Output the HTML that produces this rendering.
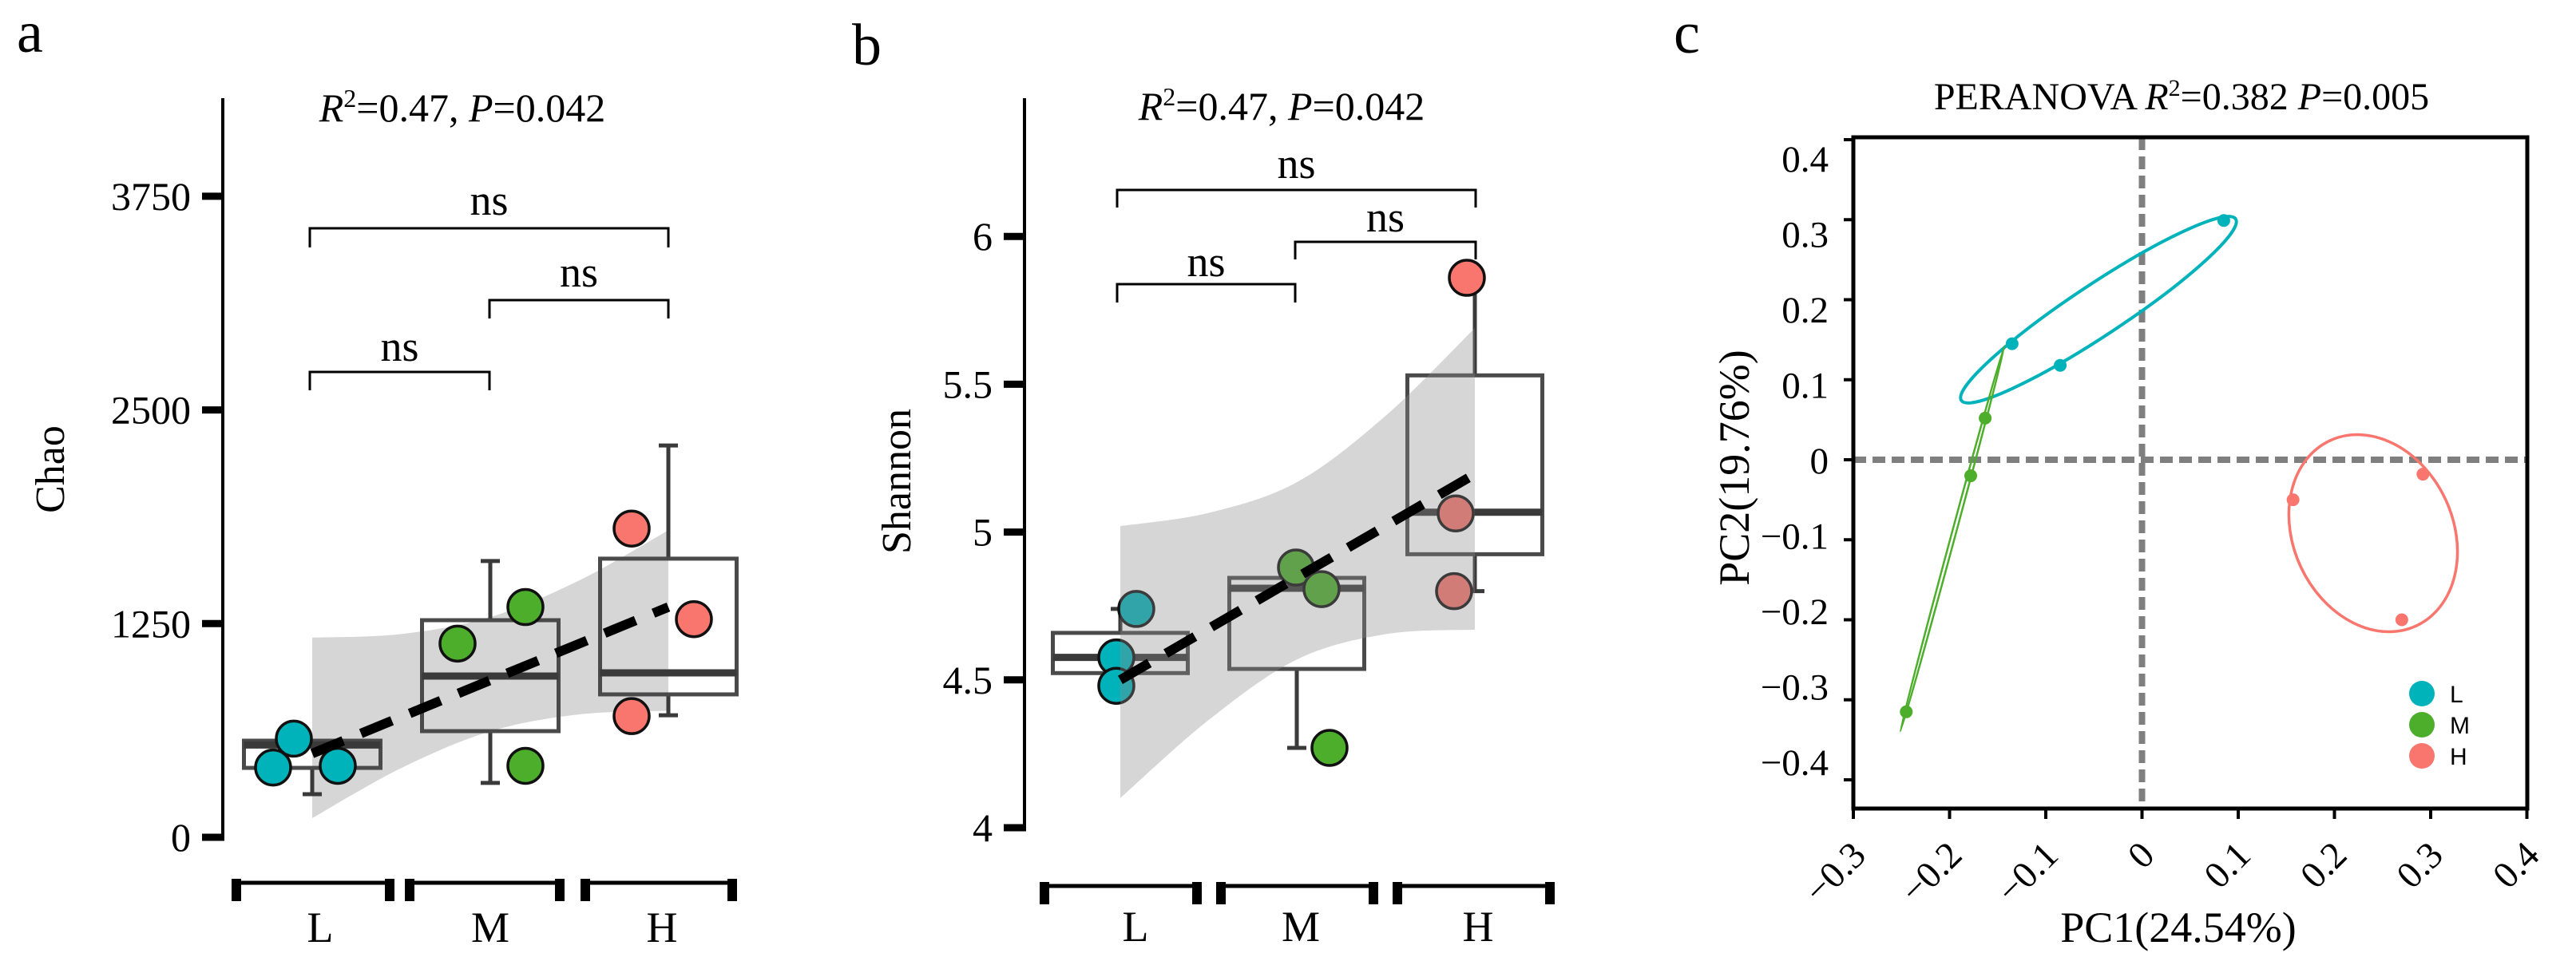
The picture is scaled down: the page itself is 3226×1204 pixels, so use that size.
<!DOCTYPE html>
<html><head><meta charset="utf-8"><style>
html,body{margin:0;padding:0;background:#fff}
svg{display:block}
text{font-family:"Liberation Serif",serif;fill:#000}
</style></head><body>
<svg id="fig" width="3226" height="1204" viewBox="0 0 3226 1204" xmlns="http://www.w3.org/2000/svg">
<g id="pa"></g>
<g id="pb"></g>
<g id="pc"></g>
</svg>
<script>
// ---------- data ----------
const groups = ['L','M','H'];
const colors = ['#00B2BA','#4DAE2C','#F8766D'];
// panel a (Chao)
const aTicks = [0,1250,2500,3750];
const aBoxLow = [252,318,714], aQ1 = [406,621,836], aMed = [540,943,962], aQ3 = [565,1270,1630], aHigh = [565,1616,2292];
const aPtsL = [408,577,418], aPtsM = [1133,1347,418], aPtsH = [1806,1276,709];
const aPtsOffset = [[-49,-23,32],[-41,44,44],[-46,32,-46]];
const aFit = [490,1347];
const aBandUp = [1168,1189,1288,1503,1796], aBandLo = [112,405,620,719,740];
// panel b (Shannon)
const bTicks = [4,4.5,5,5.5,6];
const bBoxLow = [4.52,4.27,4.80], bQ1 = [4.523,4.537,4.925], bMed = [4.576,4.81,5.067], bQ3 = [4.659,4.845,5.53], bHigh = [4.74,4.845,5.855];
const bPtsL = [4.74,4.576,4.48], bPtsM = [4.88,4.807,4.27], bPtsH = [5.86,5.063,4.80];
const bPtsOffset = [[20,-5,-5],[-1,31,41],[-10,-24,-26]];
const bFit = [4.50,5.196];
const bBandUp = [5.02,5.065,5.17,5.395,5.69], bBandLo = [4.10,4.365,4.57,4.655,4.67];
// panel c (PCoA)
const cXTicks = [-0.3,-0.2,-0.1,0,0.1,0.2,0.3,0.4];
const cYTicks = [0.4,0.3,0.2,0.1,0,-0.1,-0.2,-0.3,-0.4];
const cLx = [0.085,-0.135,-0.085], cLy = [0.299,0.145,0.118];
const cMx = [-0.163,-0.178,-0.245], cMy = [0.052,-0.02,-0.315];
const cHx = [0.157,0.292,0.27], cHy = [-0.05,-0.018,-0.2];

const NS='http://www.w3.org/2000/svg';
function mk(parent, tag, attrs, txt){
  const e=document.createElementNS(NS,tag);
  for(const k in attrs) e.setAttribute(k,attrs[k]);
  if(txt!==undefined) e.textContent=txt;
  parent.appendChild(e); return e;
}
function smooth(pts){
  let d='M'+pts[0][0]+','+pts[0][1];
  for(let i=0;i<pts.length-1;i++){
    const p0=pts[Math.max(0,i-1)],p1=pts[i],p2=pts[i+1],p3=pts[Math.min(pts.length-1,i+2)];
    const c1=[p1[0]+(p2[0]-p0[0])/6,p1[1]+(p2[1]-p0[1])/6];
    const c2=[p2[0]-(p3[0]-p1[0])/6,p2[1]-(p3[1]-p1[1])/6];
    d+=' C'+c1+' '+c2+' '+p2;
  }
  return d;
}

function boxPanel(g, cfg){
  const y=cfg.y;
  const L=mk(g,'text',{x:cfg.letterX,y:cfg.letterY,'font-size':74});
  L.textContent=cfg.letter;
  
  
  const t=mk(g,'text',{x:cfg.titleX,y:cfg.titleY,'font-size':50,'text-anchor':'middle'});
  t.innerHTML='<tspan font-style="italic">R</tspan><tspan font-size="32" dy="-18">2</tspan><tspan dy="18">=0.47, </tspan><tspan font-style="italic">P</tspan><tspan>=0.042</tspan>';
  
  
  const ax=mk(g,'line',{x1:cfg.axisX,x2:cfg.axisX,y1:cfg.axisTop,y2:cfg.axisBot,stroke:'#000','stroke-width':4});
  
  
  cfg.ticks.forEach(v=>{
    const tk=mk(g,'line',{x1:cfg.axisX-26,x2:cfg.axisX+2,y1:y(v),y2:y(v),stroke:'#000','stroke-width':9});
    
    
    const tl=mk(g,'text',{x:cfg.axisX-40,y:y(v)+17,'font-size':50,'text-anchor':'end'},String(v));
    
    
  });
  const yt=mk(g,'text',{x:0,y:0,'font-size':52,'text-anchor':'middle',transform:`translate(${cfg.ylabX},${cfg.ylabY}) rotate(-90)`},cfg.ylab);
  
  
  groups.forEach((gname,i)=>{
    const [x1,x2]=cfg.bars[i];
    const bl=mk(g,'line',{x1:x1,x2:x2,y1:cfg.barY,y2:cfg.barY,stroke:'#000','stroke-width':5});
    
    
    [x1,x2-12].forEach(xx=>{
      const c=mk(g,'rect',{x:xx,y:cfg.barY-5,width:12,height:28,fill:'#000'});
      
      
    });
    const lb=mk(g,'text',{x:cfg.labX[i],y:cfg.labY,'font-size':54,'text-anchor':'middle'},gname);
    
    
  });
  const cx=cfg.cx;
  const band=()=>{
    const xs=[0,0.5,1,1.5,2].map(k=>cx[0]+(cx[2]-cx[0])*k/2);
    const up=xs.map((x,i)=>[x,y(cfg.bandUp[i])]);
    const lo=xs.map((x,i)=>[x,y(cfg.bandLo[i])]).reverse();
    const d=smooth(up)+' L'+lo[0]+' '+smooth(lo).slice(1)+' Z';
    const b=mk(g,'path',{d:d,fill:cfg.bandFill,'fill-opacity':cfg.bandOp});
    
    
  };
  const boxes=()=>{
    groups.forEach((gname,i)=>{
      const bx=mk(g,'g',{});
      
      
      mk(bx,'line',{x1:cx[i],x2:cx[i],y1:y(cfg.high[i]),y2:y(cfg.q3[i]),stroke:'#3a3a3a','stroke-width':5});
      mk(bx,'line',{x1:cx[i],x2:cx[i],y1:y(cfg.low[i]),y2:y(cfg.q1[i]),stroke:'#3a3a3a','stroke-width':5});
      mk(bx,'line',{x1:cx[i]-12,x2:cx[i]+12,y1:y(cfg.high[i]),y2:y(cfg.high[i]),stroke:'#3a3a3a','stroke-width':5});
      mk(bx,'line',{x1:cx[i]-12,x2:cx[i]+12,y1:y(cfg.low[i]),y2:y(cfg.low[i]),stroke:'#3a3a3a','stroke-width':5});
      mk(bx,'rect',{x:cx[i]-cfg.bw/2,y:y(cfg.q3[i]),width:cfg.bw,height:y(cfg.q1[i])-y(cfg.q3[i]),fill:'none',stroke:'#4a4a4a','stroke-width':5});
      mk(bx,'line',{x1:cx[i]-cfg.bw/2,x2:cx[i]+cfg.bw/2,y1:y(cfg.med[i]),y2:y(cfg.med[i]),stroke:'#3a3a3a','stroke-width':9});
    });
  };
  const points=()=>{
    cfg.pts.forEach((arr,i)=>{
      arr.forEach((v,j)=>{
        const c=mk(g,'circle',{cx:cx[i]+cfg.off[i][j],cy:y(v),r:22,fill:colors[i],stroke:'#111','stroke-width':3.5});
        
        
      });
    });
  };
  const fit=()=>{
    const f=mk(g,'line',{x1:cx[0],y1:y(cfg.fit[0]),x2:cx[2],y2:y(cfg.fit[1]),stroke:'#000','stroke-width':12,'stroke-dasharray':'42 24'});
    
    
  };
  if(cfg.order==='a'){band();boxes();points();fit();}
  else{boxes();points();band();fit();}
  cfg.brackets.forEach(br=>{
    const bg=mk(g,'g',{});
    
    
    mk(bg,'path',{d:`M${br[0]},${br[3]} V${br[2]} H${br[1]} V${br[3]}`,fill:'none',stroke:'#000','stroke-width':3});
    mk(bg,'text',{x:(br[0]+br[1])/2,y:br[4],'font-size':54,'text-anchor':'middle'},'ns');
  });
}

const ya=v=>1049-v*0.21416;
boxPanel(document.getElementById('pa'),{
  y:ya,letter:'a',letterX:21,letterY:65,titleX:579,titleY:152,axisX:279,axisTop:123,axisBot:1051,
  ticks:aTicks,ylab:'Chao',ylabX:80,ylabY:588,
  bars:[[290,494],[507,707],[727,923]],barY:1106,labX:[401,614,829],labY:1180,
  cx:[391,614,837],bw:171,low:aBoxLow,q1:aQ1,med:aMed,q3:aQ3,high:aHigh,
  pts:[aPtsL,aPtsM,aPtsH],off:aPtsOffset,fit:aFit,bandUp:aBandUp,bandLo:aBandLo,
  bandFill:'#c8c8c8',bandOp:0.75,order:'a',
  brackets:[[388,613,466,489,452],[613,837,376,399,359],[388,837,286,310,269]]
});
const yb=v=>1037-(v-4)*370.4;
boxPanel(document.getElementById('pb'),{
  y:yb,letter:'b',letterX:1067,letterY:81,titleX:1605,titleY:150,axisX:1283,axisTop:123,axisBot:1039,
  ticks:bTicks,ylab:'Shannon',ylabX:1140,ylabY:603,
  bars:[[1302,1505],[1523,1726],[1744,1947]],barY:1110,labX:[1422,1629,1851],labY:1179,
  cx:[1403,1624,1847],bw:169,low:bBoxLow,q1:bQ1,med:bMed,q3:bQ3,high:bHigh,
  pts:[bPtsL,bPtsM,bPtsH],off:bPtsOffset,fit:bFit,bandUp:bBandUp,bandLo:bBandLo,
  bandFill:'#8a8a8a',bandOp:0.35,order:'b',
  brackets:[[1399,1622,356,379,346],[1622,1848,303,325,290],[1399,1848,238,260,223]]
});

// ---------- panel c ----------
(function(){
  const g=document.getElementById('pc');
  const xs=v=>2321+(v+0.3)*1205;
  const ys=v=>576-v*1002.5;
  const L=mk(g,'text',{x:2096,y:66,'font-size':74},'c');
  
  
  const t=mk(g,'text',{x:2732,y:137,'font-size':48,'text-anchor':'middle'});
  t.innerHTML='PERANOVA  <tspan font-style="italic">R</tspan><tspan font-size="30" dy="-17">2</tspan><tspan dy="17">=0.382  </tspan><tspan font-style="italic">P</tspan>=0.005';
  
  
  const zv=mk(g,'line',{x1:xs(0),x2:xs(0),y1:172,y2:1013,stroke:'#7f7f7f','stroke-width':8,'stroke-dasharray':'16 8'});
  
  
  const zh=mk(g,'line',{x1:2321,x2:3165,y1:ys(0),y2:ys(0),stroke:'#7f7f7f','stroke-width':8,'stroke-dasharray':'16 8'});
  
  
  const fr=mk(g,'rect',{x:2321,y:172,width:844,height:841,fill:'none',stroke:'#000','stroke-width':5});
  
  
  cYTicks.forEach(v=>{
    const tk=mk(g,'line',{x1:2309,x2:2321,y1:ys(v),y2:ys(v),stroke:'#000','stroke-width':4});
    
    
    const lbl=(v<0?'\u2212':'')+String(Math.abs(v));
    const tl=mk(g,'text',{x:2290,y:577-v*945+16,'font-size':47,'text-anchor':'end'},lbl);
    
    
  });
  cXTicks.forEach(v=>{
    const x=xs(v);
    const tk=mk(g,'line',{x1:x,x2:x,y1:1013,y2:1026,stroke:'#000','stroke-width':4});
    
    
    const lbl=(v<0?'\u2212':'')+String(Math.abs(v));
    const tl=mk(g,'text',{x:0,y:0,'font-size':47,'text-anchor':'end',transform:`translate(${x+18},${1074}) rotate(-45)`},lbl);
    
    
  });
  const xt=mk(g,'text',{x:2728,y:1180,'font-size':54,'text-anchor':'middle'},'PC1(24.54%)');
  
  
  const yt=mk(g,'text',{x:0,y:0,'font-size':54,'text-anchor':'middle',transform:'translate(2190,586) rotate(-90)'},'PC2(19.76%)');
  
  
  const eL=mk(g,'ellipse',{cx:2628,cy:388,rx:206,ry:32,transform:'rotate(-33.5 2628 388)',fill:'none',stroke:colors[0],'stroke-width':4});
  
  
  const eM=mk(g,'ellipse',{cx:2445,cy:675,rx:250,ry:2.5,transform:'rotate(-74.9 2445 675)',fill:'none',stroke:colors[1],'stroke-width':2.5});
  
  
  const eH=mk(g,'ellipse',{cx:2972,cy:668,rx:128,ry:100,transform:'rotate(65 2972 668)',fill:'none',stroke:colors[2],'stroke-width':3.5});
  
  
  [[cLx,cLy],[cMx,cMy],[cHx,cHy]].forEach((s,i)=>{
    s[0].forEach((xv,j)=>{
      const c=mk(g,'circle',{cx:xs(xv),cy:ys(s[1][j]),r:8,fill:colors[i]});
      
      
    });
  });
  groups.forEach((gname,i)=>{
    const lg=mk(g,'g',{});
    
    
    mk(lg,'circle',{cx:3033,cy:869+i*39,r:16,fill:colors[i]});
    const tx=mk(lg,'text',{x:3068,y:880+i*39,'font-size':30},gname);
    tx.setAttribute('style','font-family:"Liberation Sans",sans-serif');
  });
})();
</script>
</body></html>
